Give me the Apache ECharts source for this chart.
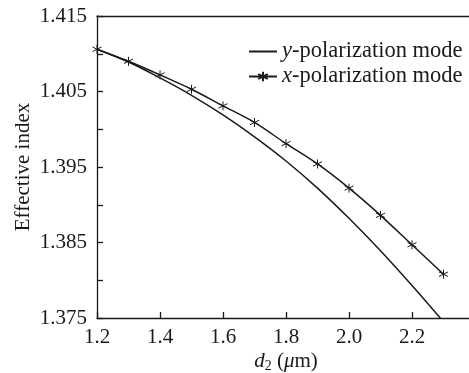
<!DOCTYPE html>
<html>
<head>
<meta charset="utf-8">
<script src="https://cdn.jsdelivr.net/npm/echarts@6/dist/echarts.min.js"></script>
<style>
html,body{margin:0;padding:0;background:#fff;}
#chart{width:469px;height:373px;}
</style>
</head>
<body>
<div id="chart"></div>
<script>
var d2Values = [1.2, 1.3, 1.4, 1.5, 1.6, 1.7, 1.8, 1.9, 2.0, 2.1, 2.2, 2.3];
var yPolarization = [1.4106, 1.4089, 1.4068, 1.4045, 1.4019, 1.3990, 1.3958, 1.3922, 1.3882, 1.3839, 1.3793, 1.3745];
var xPolarization = [1.4106, 1.4090, 1.4072, 1.4053, 1.4031, 1.4009, 1.3981, 1.3954, 1.3922, 1.3886, 1.3847, 1.3808];
var yTickLabels = ['1.375', '1.385', '1.395', '1.405', '1.415'];
var xTickLabels = ['1.2', '1.4', '1.6', '1.8', '2.0', '2.2'];

var FONT = '"Liberation Serif", "DejaVu Serif", serif';
var INK = '#1a1a1a';
function pairs(xs, ys) { return xs.map(function (x, i) { return [x, ys[i]]; }); }
var starPath = 'path://M50,0L50,100M6.7,25L93.3,75M6.7,75L93.3,25';

var chart = echarts.init(document.getElementById('chart'));
chart.setOption({
  animation: false,
  backgroundColor: '#fff',
  grid: { left: 97, top: 16, bottom: 55, right: -6, outerBoundsMode: 'none', containLabel: false, show: false },
  legend: {
    left: 243, top: 35, orient: 'vertical', align: 'left',
    itemWidth: 28, itemHeight: 12, itemGap: 2,
    textStyle: { fontFamily: FONT, fontSize: 22.5, color: INK, lineHeight: 22,
      rich: { i: { fontFamily: FONT, fontStyle: 'italic', fontSize: 22.5, color: INK } } },
    formatter: function (name) {
      return name === 'y' ? '{i|y}-polarization mode' : '{i|x}-polarization mode';
    },
    data: [
      { name: 'y', itemStyle: { color: 'transparent', borderWidth: 0, opacity: 0 } },
      { name: 'x' }
    ]
  },
  xAxis: [{
    type: 'value', min: 1.2, max: 2.4, interval: 0.2,
    name: '{i|d}{s|2} ({i|μ}m)', nameLocation: 'middle', nameGap: 31, nameMoveOverlap: false,
    nameTextStyle: { fontFamily: FONT, fontSize: 21, color: INK,
      rich: { i: { fontFamily: FONT, fontStyle: 'italic', fontSize: 21, color: INK },
              s: { fontFamily: FONT, fontSize: 14, color: INK, padding: [10, 0, 0, 0] } } },
    axisLine: { lineStyle: { color: INK, width: 1.3 } },
    axisTick: { inside: true, length: 6, lineStyle: { color: INK, width: 1.3 } },
    axisLabel: { fontFamily: FONT, fontSize: 21, color: INK, margin: 9, showMaxLabel: false,
      formatter: function (v) { var s = v.toFixed(1); return xTickLabels.indexOf(s) >= 0 ? s : ''; } },
    splitLine: { show: false }
  }, {
    type: 'value', position: 'top', min: 1.2, max: 2.4, interval: 0.2,
    axisLine: { show: true, lineStyle: { color: INK, width: 1.3 } },
    axisTick: { show: false }, axisLabel: { show: false }, splitLine: { show: false }
  }],
  yAxis: {
    type: 'value', min: 1.375, max: 1.415, interval: 0.005,
    name: 'Effective index', nameLocation: 'middle', nameGap: 63, nameRotate: 90, nameMoveOverlap: false,
    nameTextStyle: { fontFamily: FONT, fontSize: 21, color: INK },
    axisLine: { show: true, lineStyle: { color: INK, width: 1.3 } },
    axisTick: { show: true, inside: true, length: 6, lineStyle: { color: INK, width: 1.3 } },
    axisLabel: { fontFamily: FONT, fontSize: 21, color: INK, margin: 10,
      formatter: function (v) { var s = v.toFixed(3); return yTickLabels.indexOf(s) >= 0 ? s : ''; } },
    splitLine: { show: false }
  },
  series: [
    { name: 'y', type: 'line', smooth: 0.3, symbol: 'none', clip: true,
      lineStyle: { color: INK, width: 1.5 }, itemStyle: { color: INK },
      data: pairs(d2Values, yPolarization) },
    { name: 'x', type: 'line', smooth: 0.3, symbol: starPath, symbolSize: 9, clip: true,
      lineStyle: { color: INK, width: 1.5 },
      itemStyle: { color: INK, borderColor: INK, borderWidth: 1 },
      data: pairs(d2Values, xPolarization) }
  ]
});
</script>
</body>
</html>
